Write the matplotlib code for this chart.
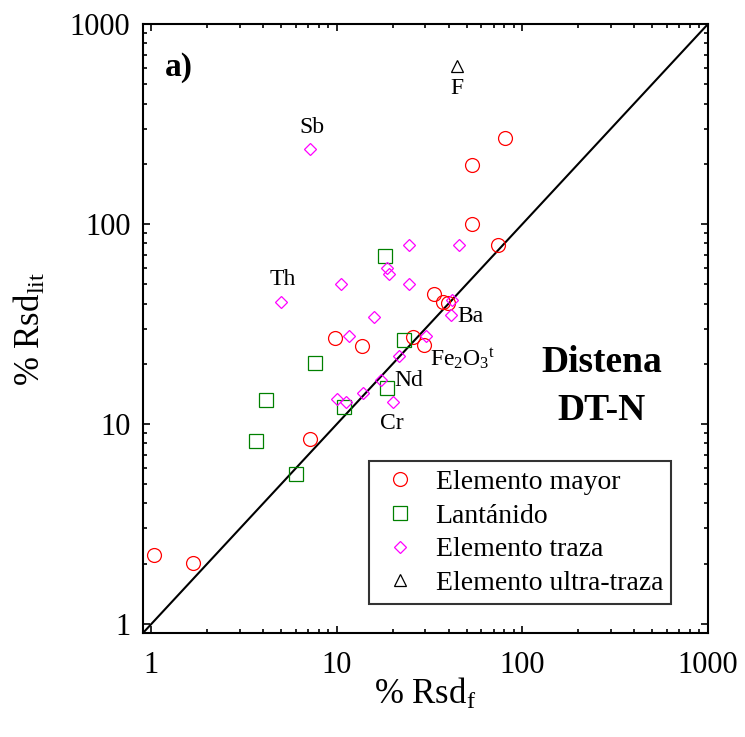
import matplotlib
matplotlib.use("Agg")
import matplotlib.pyplot as plt
from matplotlib.ticker import FixedLocator, FixedFormatter, LogLocator, NullFormatter

plt.rcParams['font.family'] = ['Liberation Serif', 'DejaVu Serif']
plt.rcParams['mathtext.fontset'] = 'custom'
plt.rcParams['mathtext.rm'] = 'Liberation Serif'
plt.rcParams['mathtext.it'] = 'Liberation Serif:italic'
plt.rcParams['mathtext.bf'] = 'Liberation Serif:bold'

# %Rsd values (x = Rsd_f, y = Rsd_lit)
mayor_x = [80.5, 53.2, 53.2, 74.1, 33.3, 37.1, 39.8, 9.8, 13.6, 25.8, 29.4, 7.2, 1.03, 1.68]
mayor_y = [270, 197, 100, 78.5, 44.5, 40.9, 40.1, 26.8, 24.5, 27.1, 24.8, 8.41, 2.21, 2.01]

lant_x = [18.1, 22.9, 7.6, 4.12, 18.7, 10.9, 3.64, 6.05]
lant_y = [69.4, 26.3, 20.1, 13.1, 15.2, 12.2, 8.22, 5.6]

traza_x = [7.14, 24.5, 45.4, 5.0, 10.5, 24.5, 18.5, 19.1, 15.9, 41.8,
           41.0, 11.6, 30.2, 21.6, 17.2, 13.85, 9.95, 11.2, 20.1]
traza_y = [236, 78.5, 78.5, 40.6, 50.1, 50.1, 60, 56.2, 34.4, 41.7,
           35.1, 27.6, 27.6, 21.9, 16.6, 14.2, 13.3, 12.8, 12.9]

ultra_x = [44.1]
ultra_y = [619]

tick_vals = [1, 10, 100, 1000]
tick_labels = ['1', '10', '100', '1000']

fig = plt.figure(figsize=(7.45, 7.37), dpi=100)
ax = fig.add_axes([0.1919, 0.1411, 0.7584, 0.8263])
ax.set_xscale('log')
ax.set_yscale('log')
ax.set_xlim(0.9, 1000)
ax.set_ylim(0.9, 1000)

# 1:1 line
ax.plot([0.9, 1000], [0.9, 1000], color='black', lw=1.5, zorder=1)

ax.plot(mayor_x, mayor_y, 'o', ms=10, mfc='none', mec='red', mew=0.9,
        label='Elemento mayor', zorder=3)
ax.plot(lant_x, lant_y, 's', ms=10, mfc='none', mec='green', mew=0.9,
        label='Lantánido', zorder=3)
ax.plot(traza_x, traza_y, 'D', ms=6, mfc='none', mec='magenta', mew=0.9,
        label='Elemento traza', zorder=3)
ax.plot(ultra_x, ultra_y, '^', ms=8.5, mfc='none', mec='black', mew=0.9,
        label='Elemento ultra-traza', zorder=3)

# element labels
lab_fs = 17
ax.text(44.1, 476, 'F', fontsize=lab_fs, ha='center', va='center')
ax.text(7.32, 302, 'Sb', fontsize=lab_fs, ha='center', va='center')
ax.text(5.11, 52.5, 'Th', fontsize=lab_fs, ha='center', va='center')
ax.text(44.4, 34.3, 'Ba', fontsize=lab_fs, ha='left', va='center')
ax.text(31.7, 19.5, r'Fe$_2$O$_3$$^\mathrm{t}$', fontsize=lab_fs, ha='left', va='baseline')
ax.text(20.3, 16.4, 'Nd', fontsize=lab_fs, ha='left', va='center')
ax.text(19.8, 10.1, 'Cr', fontsize=lab_fs, ha='center', va='center')

ax.text(0.039, 0.929, 'a)', transform=ax.transAxes, fontsize=24,
        fontweight='bold', ha='left', va='center')
ax.text(0.812, 0.445, 'Distena', transform=ax.transAxes, fontsize=27,
        fontweight='bold', ha='center', va='center')
ax.text(0.812, 0.366, 'DT-N', transform=ax.transAxes, fontsize=27,
        fontweight='bold', ha='center', va='center')

# axes / ticks
for axis in (ax.xaxis, ax.yaxis):
    axis.set_major_locator(FixedLocator(tick_vals))
    axis.set_major_formatter(FixedFormatter(tick_labels))
    axis.set_minor_locator(LogLocator(base=10, subs=range(2, 10)))
    axis.set_minor_formatter(NullFormatter())
ax.tick_params(which='both', direction='in', top=True, right=True, width=1.2)
ax.tick_params(which='major', length=5, labelsize=22, pad=9)
ax.tick_params(axis='x', which='major', pad=13)
ax.tick_params(which='minor', length=3)
for sp in ax.spines.values():
    sp.set_linewidth(1.5)

ax.set_xlabel(r'% Rsd$_\mathrm{f}$', fontsize=25)
ax.set_ylabel(r'% Rsd$_\mathrm{lit}$', fontsize=25)
ax.xaxis.set_label_coords(0.5, -0.072)
ax.yaxis.set_label_coords(-0.168, 0.5)

leg = ax.legend(loc='upper left', bbox_to_anchor=(0.400, 0.2824), borderaxespad=0,
                fontsize=20, frameon=True, fancybox=False, numpoints=1,
                handlelength=1.6, handletextpad=0.5, labelspacing=0.3,
                borderpad=0.3)
leg.get_frame().set_edgecolor('black')
leg.get_frame().set_linewidth(1.5)

fig.savefig('out.png', dpi=100)
